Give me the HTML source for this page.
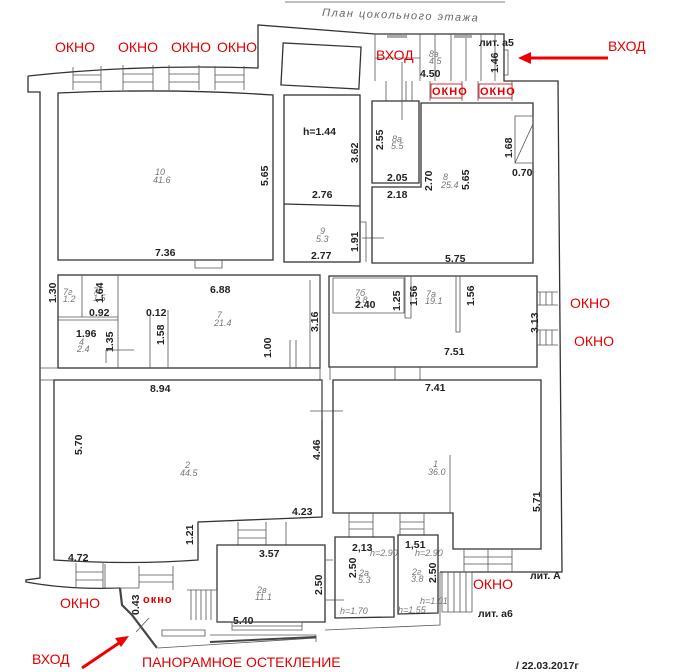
<!DOCTYPE html>
<html><head><meta charset="utf-8"><style>
html,body{margin:0;padding:0;background:#fff;}
svg{display:block;}
.w{fill:none;stroke:#333;stroke-width:1.3;}
.t{fill:none;stroke:#555;stroke-width:0.8;}
.d{font-family:"Liberation Sans",sans-serif;font-size:10.5px;font-weight:bold;fill:#222;}
.s{font-family:"Liberation Sans",sans-serif;font-size:9px;font-style:italic;fill:#777;}
.r{font-family:"Liberation Sans",sans-serif;font-size:14px;fill:#e00000;}
.rs{font-family:"Liberation Sans",sans-serif;font-size:11px;font-weight:bold;fill:#e00000;letter-spacing:1px;}
</style></head><body>
<svg width="674" height="672" viewBox="0 0 674 672" xmlns="http://www.w3.org/2000/svg">
<rect width="674" height="672" fill="#fff"/>
<line x1="285" y1="2" x2="505" y2="2" class="t"/>
<text x="322" y="16" font-family="Liberation Sans, sans-serif" font-size="11" font-style="italic" fill="#666" letter-spacing="1.5" transform="rotate(2 322 16)">План цокольного этажа</text>

<!-- outer walls -->
<path class="w" d="M28,76 Q140,64 258,68 L258,25 L375,34 L504,34 L504,81 L558,81 L562,572 L440,572"/>
<path class="w" d="M28,76 L28,92 L40,92 L40,578 L26,580 L26,582 Q70,590 120,588"/>
<rect class="w" x="282" y="45" width="78" height="42" transform="rotate(3 321 66)"/>
<!-- lit a5 -->
<line class="t" x1="375" y1="34" x2="375" y2="81"/><line class="t" x1="375" y1="58" x2="420" y2="58"/>
<path class="t" d="M420,34V81M435,34V81M451,34V81M466,34V81M481,34V81M495,34V81M503,50H508V75H503"/>
<rect x="387" y="35" width="20" height="3" fill="#aaa"/><rect x="454" y="35" width="18" height="3" fill="#aaa"/>
<text class="d" x="420" y="77" font-weight="normal">4.50</text>
<text class="s" x="429" y="57">8в</text><text class="s" x="429" y="64">4.5</text>
<text class="d" transform="translate(498,73) rotate(-90)">1.46</text>
<!-- top windows -->
<g class="t">
<path d="M73,67V90M101,66V90M73,75H101M73,82H101"/>
<path d="M123,65V90M153,65V90M123,74H153M123,82H153"/>
<path d="M169,65V90M199,65V90M169,74H199M169,82H199"/>
<path d="M215,66V90M244,66V90M215,75H244M215,82H244"/>
<path d="M386,81V101M406,81V101M412,81V101M430,81V101M462,81V101M478,81V101M512,81V101"/>
</g>
<rect x="431" y="84" width="31" height="14" fill="#fff" stroke="#c00" stroke-width="0.8"/>
<rect x="479" y="84" width="33" height="14" fill="#fff" stroke="#c00" stroke-width="0.8"/>
<text class="rs" x="432" y="95">ОКНО</text><text class="rs" x="480" y="95">ОКНО</text>

<!-- room 10 -->
<path class="w" d="M58,93 Q170,88 273,95 L273,260 L58,260 Z"/>
<text class="d" x="155" y="256">7.36</text>
<text class="d" transform="translate(268,186) rotate(-90)">5.65</text>
<text class="s" x="155" y="175">10</text><text class="s" x="153" y="183">41.6</text>
<path class="t" d="M195,260V268H222V260"/>
<!-- h=1.44 / 9 -->
<rect class="w" x="284" y="95" width="76" height="167"/>
<line class="w" x1="284" y1="204" x2="360" y2="206"/>
<text class="d" x="303" y="135">h=1.44</text>
<text class="d" transform="translate(358,163) rotate(-90)">3.62</text>
<text class="d" x="312" y="198">2.76</text>
<text class="d" x="311" y="259">2.77</text>
<text class="s" x="320" y="234">9</text><text class="s" x="316" y="242">5.3</text>
<text class="d" transform="translate(358,252) rotate(-90)">1.91</text>
<path class="t" d="M362,238H384M360,222H366V262"/>
<!-- 8a / 8 -->
<path class="w" d="M372,101 L419,101 L419,183 L372,183 Z"/>
<path class="w" d="M421,103 L533,103 L533,263 L372,263 L372,187 L421,187 Z"/>
<line class="t" x1="402" y1="62" x2="402" y2="120"/>
<text class="d" transform="translate(383,150) rotate(-90)">2.55</text>
<text class="s" x="392" y="142">8a</text><text class="s" x="391" y="149">5.5</text>
<text class="d" x="387" y="181">2.05</text>
<text class="d" x="387" y="198">2.18</text>
<text class="d" transform="translate(432,191) rotate(-90)">2.70</text>
<text class="s" x="443" y="180">8</text><text class="s" x="441" y="188">25.4</text>
<text class="d" transform="translate(469,190) rotate(-90)">5.65</text>
<text class="d" transform="translate(512,158) rotate(-90)">1.68</text>
<path class="t" d="M515,116H533V163H515ZM515,163L533,124"/>
<text class="d" x="512" y="176">0.70</text>
<text class="d" x="445" y="262">5.75</text>

<!-- row 2 -->
<rect class="w" x="58" y="275" width="262" height="93"/>
<path class="t" d="M58,320H118M58,317H118M82,275V317M118,275V368M150,315V368M168,310V368"/>
<path class="t" d="M40,368H58M40,380H54M290,340V368M296,340V368M310,280V368M320,275V368"/>
<text class="d" transform="translate(56,303) rotate(-90)">1.30</text>
<text class="s" x="63" y="295">7г</text><text class="s" x="63" y="302">1.2</text>
<text class="s" x="93" y="294">7б</text><text class="s" x="93" y="301">1.5</text>
<text class="d" transform="translate(103,303) rotate(-90)">1.64</text>
<text class="d" x="89" y="316">0.92</text>
<text class="d" x="146" y="316">0.12</text>
<text class="d" x="76" y="337">1.96</text>
<text class="s" x="79" y="345">4</text><text class="s" x="77" y="352">2.4</text>
<text class="d" transform="translate(113,352) rotate(-90)">1.35</text>
<text class="d" transform="translate(164,345) rotate(-90)">1.58</text>
<text class="d" x="210" y="293">6.88</text>
<text class="s" x="217" y="318">7</text><text class="s" x="214" y="326">21.4</text>
<text class="d" transform="translate(271,358) rotate(-90)">1.00</text>
<text class="d" transform="translate(318,332) rotate(-90)">3.16</text>
<path class="t" d="M106,363V350H134"/>
<!-- 7a -->
<path class="w" d="M329,276 L537,276 L537,367 L329,367 Z"/>
<path class="t" d="M333,278H404V313H333ZM405,276V318H411V276M456,276V332H460V276M537,305H558M537,330H558M537,292H558M537,345H558"/>
<path class="t" d="M540,292V305M546,292V305M552,292V305M540,330V345M546,330V345M552,330V345"/>
<text class="s" x="355" y="296">7б</text><text class="s" x="355" y="303">3.8</text>
<text class="d" x="355" y="308">2.40</text>
<text class="d" transform="translate(400,311) rotate(-90)">1.25</text>
<text class="d" transform="translate(417,306) rotate(-90)">1.56</text>
<text class="s" x="426" y="297">7а</text><text class="s" x="425" y="304">19.1</text>
<text class="d" transform="translate(474,306) rotate(-90)">1.56</text>
<text class="d" transform="translate(538,333) rotate(-90)">3.13</text>
<text class="d" x="444" y="355">7.51</text>
<text class="r" x="570" y="308">ОКНО</text>
<text class="r" x="574" y="346">ОКНО</text>
<path class="t" d="M320,367V380M330,367V380M395,367V380M420,367V380"/>

<!-- room 2 -->
<path class="w" d="M54,380 L322,380 L322,517 L198,522 L198,560 Q130,565 54,560 Z"/>
<path class="t" d="M310,411H343M322,380V420"/>
<text class="d" x="150" y="392">8.94</text>
<text class="d" transform="translate(82,455) rotate(-90)">5.70</text>
<text class="s" x="185" y="468">2</text><text class="s" x="180" y="476">44.5</text>
<text class="d" transform="translate(320,460) rotate(-90)">4.46</text>
<text class="d" x="292" y="515">4.23</text>
<text class="d" transform="translate(193,545) rotate(-90)">1.21</text>
<text class="d" x="68" y="561">4.72</text>
<!-- room 1 -->
<path class="w" d="M333,380 L541,380 L541,549 L453,549 L453,513 L333,513 Z"/>
<path class="t" d="M450,455V513"/>
<text class="d" x="425" y="391">7.41</text>
<text class="s" x="433" y="467">1</text><text class="s" x="428" y="475">36.0</text>
<text class="d" transform="translate(540,512) rotate(-90)">5.71</text>
<!-- windows bottom row -->
<path class="t" d="M238,522V545M266,522V545M286,522V545M238,530H266M238,538H266M349,513V537M373,513V537M349,522H373M349,529H373M400,513V535M424,513V535M400,522H424M400,529H424M464,549V572M488,549V572M512,549V572M464,557H512M464,564H512"/>
<path class="t" d="M76,563V588M103,563V588M76,572H103M76,580H103M139,566V588M173,566V590M139,575H173M139,582H173M105,564V588M105,588H139"/>
<!-- room 2в -->
<path class="w" d="M217,545 L325,545 L325,622 L217,622 Z"/>
<path class="t" d="M187,590H217V622M191,590V620M196,590V620M201,590V620M206,590V620M211,590V620M325,560H333M325,600H344"/>
<text class="d" x="259" y="557">3.57</text>
<text class="d" transform="translate(322,595) rotate(-90)">2.50</text>
<text class="s" x="257" y="593">2в</text><text class="s" x="255" y="600">11.1</text>
<text class="d" x="233" y="624">5.40</text>
<!-- 2a/2г -->
<path class="w" d="M335,537 L394,537 L394,617 L335,618 Z"/>
<path class="w" d="M398,535 L438,535 L438,613 L398,614 Z"/>
<text class="d" x="352" y="551">2,13</text>
<text class="d" x="405" y="548">1,51</text>
<text class="s" x="370" y="556" font-style="normal" font-size="6.5">h=2.90</text>
<text class="s" x="415" y="556" font-style="normal" font-size="6.5">h=2.90</text>
<text class="d" transform="translate(356,578) rotate(-90)">2.50</text>
<text class="d" transform="translate(436,583) rotate(-90)">2.50</text>
<text class="s" x="359" y="576">2а</text><text class="s" x="358" y="583">5.3</text>
<text class="s" x="412" y="575">2г</text><text class="s" x="411" y="582">3.8</text>
<text class="s" x="340" y="614" font-style="normal" font-size="6.5" fill="#333">h=1.70</text>
<text class="s" x="398" y="613" font-style="normal" font-size="6.5" fill="#333">h=1.55</text>
<text class="s" x="420" y="604" font-style="normal" font-size="6.5" fill="#333">h=1.01</text>
<path class="t" d="M442,572H472V612H442ZM448,572V612M454,572V612M460,572V612M466,572V612M440,572V625L325,630"/>
<text class="d" x="530" y="579" font-weight="normal">лит. А</text>
<text class="d" x="478" y="617" font-weight="normal">лит. а6</text>
<text class="d" x="479" y="46" font-weight="normal">лит. а5</text>
<!-- entrance / glazing -->
<path d="M120,588 L122,605 L132,615 L157,648" fill="none" stroke="#444" stroke-width="2.2"/>
<path class="t" d="M136,632L149,618M158,648L316,638M162,630H205V636H162ZM210,635H316V642"/>
<path d="M210,642 L316,637" stroke="#444" stroke-width="2"/>
<path class="t" d="M232,622H302V630H232ZM232,626H302"/>
<text class="d" transform="translate(139,615) rotate(-90)">0.43</text>
<!-- red labels -->
<text class="r" x="55" y="52">ОКНО</text><text class="r" x="118" y="52">ОКНО</text>
<text class="r" x="171" y="52">ОКНО</text><text class="r" x="217" y="52">ОКНО</text>
<text class="r" x="376" y="60">ВХОД</text>
<text class="r" x="608" y="51">ВХОД</text>
<text class="r" x="60" y="608">ОКНО</text>
<text class="rs" x="143" y="603">окно</text>
<text class="r" x="473" y="589">ОКНО</text>
<text class="r" x="32" y="664">ВХОД</text>
<text class="r" x="142" y="667">ПАНОРАМНОЕ ОСТЕКЛЕНИЕ</text>
<line x1="608" y1="58" x2="528" y2="58" stroke="#e00" stroke-width="3"/>
<polygon points="518,58 531,52 531,64" fill="#e00"/>
<line x1="82" y1="668" x2="122" y2="641" stroke="#e00" stroke-width="3"/>
<polygon points="129,636 121,647 115,638" fill="#e00"/>
<text class="d" x="516" y="669" font-size="8" font-weight="normal">/ 22.03.2017г</text>
</svg>
</body></html>
